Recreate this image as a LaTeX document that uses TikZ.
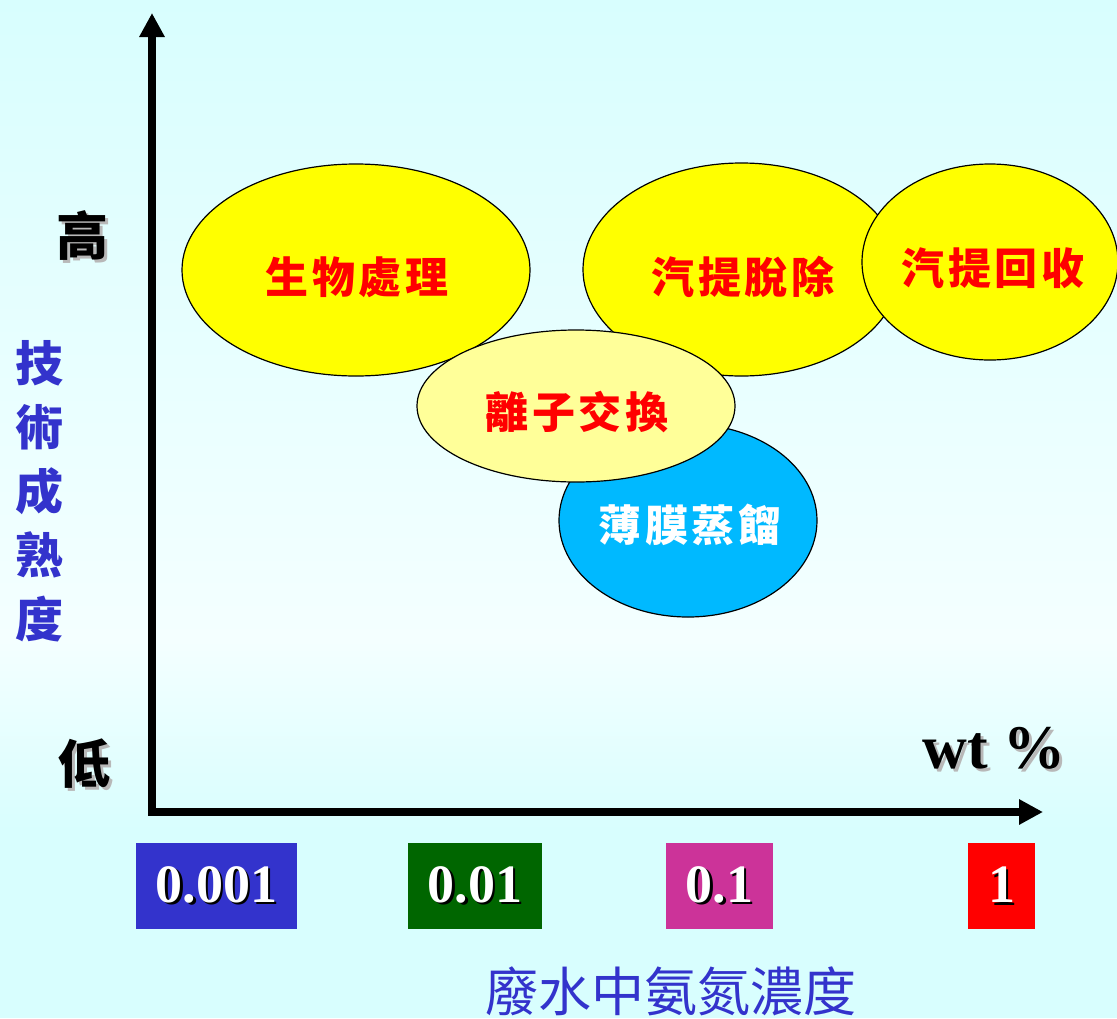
\documentclass[tikz,border=0pt]{standalone}
\usepackage{fontspec}
\setmainfont{Liberation Serif}
\newfontfamily\cjk{Noto Sans CJK TC}
\newfontfamily\cjksp{Noto Sans CJK TC}[LetterSpace=8]
\usetikzlibrary{arrows.meta,shapes.geometric}
\definecolor{bgcyan}{HTML}{D8FEFE}
\definecolor{bgwhite}{HTML}{F4FFFF}
\definecolor{axisblue}{HTML}{3333CC}
\definecolor{boxgreen}{HTML}{006600}
\definecolor{boxmagenta}{HTML}{CC3399}
\definecolor{paleyellow}{HTML}{FFFF99}
\definecolor{brightyellow}{HTML}{FFFF00}
\definecolor{skyblue}{HTML}{00B9FF}
\definecolor{shadowgray}{HTML}{B8B8B8}
\newcommand\shadowed[3]{\leavevmode\rlap{\kern#2\raisebox{-#2}{\color{#1}#3}}#3}
\tikzset{
  blob/.style={ellipse, draw=black, line width=1.2pt, inner sep=0pt},
  blobtext/.style={font=\cjksp\bfseries\fontsize{43}{43}\selectfont, text=red, inner sep=0pt},
  valbox/.style={minimum height=86pt, inner sep=0pt, text=white,
    font=\bfseries\fontsize{54}{54}\selectfont},
  endlabel/.style={font=\cjk\bfseries\fontsize{52}{52}\selectfont, text=black, inner sep=0pt},
}
\begin{document}
\begin{tikzpicture}[x=1pt,y=-1pt]
\useasboundingbox (0,0) rectangle (1117,1018);
\shade[top color=bgcyan, bottom color=bgwhite] (0,0) rectangle (1117,640);
\shade[top color=bgwhite, bottom color=bgcyan] (0,640) rectangle (1117,830);
\fill[bgcyan] (0,830) rectangle (1117,1018);

% axes
\coordinate (origin) at (152,812);
\coordinate (ytip) at (152,13);
\coordinate (xtip) at (1043,812);
\draw[line width=8pt, {Triangle[width=24pt,length=24pt]}-{Triangle[width=24pt,length=24pt]}]
  (ytip) -- (origin) -- (xtip);

% ellipses
\node[blob, fill=brightyellow, minimum width=348pt, minimum height=212pt] (bio) at (356,270) {};
\node[blobtext] (biot) at (357,277) {生物處理};
\node[blob, fill=brightyellow, minimum width=317pt, minimum height=213pt] (strip) at (741.5,269.5) {};
\node[blobtext] (stript) at (743,277) {汽提脫除};
\node[blob, fill=brightyellow, minimum width=256pt, minimum height=196pt] (recov) at (990,262) {};
\node[blobtext] (recovt) at (993,268) {汽提回收};
\node[blob, fill=skyblue, minimum width=258pt, minimum height=193pt] (memb) at (688,520.5) {};
\node[blobtext, text=white] (membt) at (690,525) {薄膜蒸餾};
\node[blob, fill=paleyellow, minimum width=318pt, minimum height=152pt] (ion) at (576,406) {};
\node[blobtext] (iont) at (577,412) {離子交換};

% axis labels
\node[endlabel] (high) at (82,237) {\shadowed{shadowgray}{3pt}{高}};
\node[endlabel] (low) at (84,765) {\shadowed{shadowgray}{3pt}{低}};
\node[font=\cjk\bfseries\fontsize{48}{64}\selectfont, text=axisblue, align=center, inner sep=0pt]
  (ylab) at (40,491) {技\\術\\成\\熟\\度};
\node[font=\bfseries\fontsize{62}{62}\selectfont, inner sep=0pt] (unit) at (994,750)
  {\shadowed{shadowgray}{3pt}{wt \%}};

% value boxes
\node[valbox, fill=axisblue, minimum width=161pt] (v1) at (216.5,886) {\shadowed{black}{2.5pt}{0.001}};
\node[valbox, fill=boxgreen, minimum width=134pt] (v2) at (475,886) {\shadowed{black}{2.5pt}{0.01}};
\node[valbox, fill=boxmagenta, minimum width=107pt] (v3) at (719.5,886) {\shadowed{black}{2.5pt}{0.1}};
\node[valbox, fill=red, minimum width=67pt] (v4) at (1001.5,886) {\shadowed{black}{2.5pt}{1}};

\node[font=\cjk\fontsize{53}{53}\selectfont, text=axisblue, inner sep=0pt] (xlab) at (671,991) {廢水中氨氮濃度};
\end{tikzpicture}
\end{document}
